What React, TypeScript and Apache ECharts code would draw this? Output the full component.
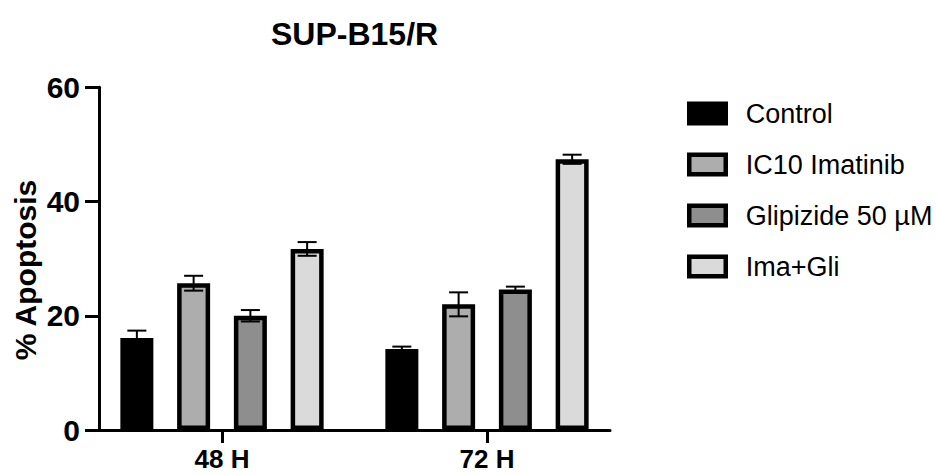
import React, { useEffect, useRef } from "react";
import * as echarts from "echarts";

const categories = ["48 H", "72 H"];
const seriesNames = ["Control", "IC10 Imatinib", "Glipizide 50 µM", "Ima+Gli"];
const controlValues = [16.1, 14.2];
const controlErrors = [1.3, 0.4];
const imatinibValues = [25.7, 22.0];
const imatinibErrors = [1.3, 2.1];
const glipizideValues = [20.0, 24.6];
const glipizideErrors = [1.0, 0.5];
const comboValues = [31.7, 47.4];
const comboErrors = [1.2, 0.8];
const yMin = 0;
const yMax = 60;
const yInterval = 20;

const seriesValues = [controlValues, imatinibValues, glipizideValues, comboValues];
const seriesErrors = [controlErrors, imatinibErrors, glipizideErrors, comboErrors];
const fills = ["#000000", "#adadad", "#8e8e8e", "#dadada"];

const FONT = "'Liberation Sans', Arial, Helvetica, sans-serif";
const BAR_W = 33;
const GAP_RATIO = 0.72;
const BORDER = 4.5;

export default function App() {
  const ref = useRef<HTMLDivElement>(null);
  useEffect(() => {
    if (!ref.current) return;
    const chart = echarts.init(ref.current, null, { renderer: "svg" });
    const step = BAR_W * (1 + GAP_RATIO);
    const bars = seriesNames.map((name, i) => ({
      name,
      type: "bar",
      xAxisIndex: 0,
      yAxisIndex: 0,
      data: seriesValues[i],
      barWidth: BAR_W,
      barGap: GAP_RATIO * 100 + "%",
      itemStyle: { color: fills[i], borderColor: "#000", borderWidth: BORDER },
      emphasis: { disabled: true },
    }));
    const errs = seriesNames.map((name, i) => {
      const offset = (i - 1.5) * step;
      return {
        name: "err-" + name,
        type: "custom",
        xAxisIndex: 0,
        yAxisIndex: 0,
        z: 10,
        data: seriesValues[i].map((v, k) => [k, v, seriesErrors[i][k]]),
        encode: { x: 0, y: 1 },
        renderItem: (params: any, api: any) => {
          const idx = api.value(0);
          const v = api.value(1);
          const e = api.value(2);
          const top = api.coord([idx, v + e]);
          const bot = api.coord([idx, v - e]);
          const x = top[0] + offset;
          const hw = 9.5;
          const style = { stroke: "#000", lineWidth: 2, fill: "none" };
          return {
            type: "group",
            children: [
              { type: "line", shape: { x1: x, y1: top[1], x2: x, y2: bot[1] }, style },
              { type: "line", shape: { x1: x - hw, y1: top[1], x2: x + hw, y2: top[1] }, style },
              { type: "line", shape: { x1: x - hw, y1: bot[1], x2: x + hw, y2: bot[1] }, style },
            ],
          };
        },
      };
    });
    chart.setOption({
      animation: false,
      backgroundColor: "#ffffff",
      title: {
        text: "SUP-B15/R",
        left: 271,
        top: 18,
        padding: 0,
        textStyle: { fontFamily: FONT, fontSize: 32, fontWeight: "bold", color: "#000" },
      },
      legend: {
        data: seriesNames,
        orient: "vertical",
        left: 687,
        top: 100,
        itemWidth: 36.5,
        itemHeight: 19.5,
        itemGap: 24,
        icon: "rect",
        selectedMode: false,
        padding: 0,
        itemStyle: { borderColor: "#000", borderWidth: BORDER },
        textStyle: {
          fontFamily: FONT,
          fontSize: 27,
          color: "#000",
          lineHeight: 24,
          padding: [0, 0, 0, 15],
        },
      },
      grid: [
        { left: 89.5, right: 316.5, top: 87.3, bottom: 45 },
        { left: 99, right: 326, top: 87.3, bottom: 45 },
      ],
      xAxis: [
        {
          type: "category",
          gridIndex: 0,
          data: categories,
          axisLine: { show: false },
          axisTick: { show: true, alignWithLabel: true, length: 13, lineStyle: { color: "#000", width: 3 } },
          axisLabel: { margin: 16, fontFamily: FONT, fontSize: 26, fontWeight: "bold", color: "#000" },
          splitLine: { show: false },
        },
        {
          type: "value",
          gridIndex: 1,
          min: 0,
          max: 1,
          axisLine: { show: true, lineStyle: { color: "#000", width: 3 } },
          axisTick: { show: false },
          axisLabel: { show: false },
          splitLine: { show: false },
        },
      ],
      yAxis: [
        { type: "value", gridIndex: 0, min: yMin, max: yMax, show: false },
        {
          type: "value",
          gridIndex: 1,
          min: yMin,
          max: yMax,
          interval: yInterval,
          axisLine: { show: true, lineStyle: { color: "#000", width: 3 } },
          axisTick: { show: true, length: 14, lineStyle: { color: "#000", width: 3 } },
          axisLabel: { margin: 19, fontFamily: FONT, fontSize: 30, fontWeight: "bold", color: "#000" },
          splitLine: { show: false },
        },
      ],
      graphic: [
        {
          type: "text",
          x: 25,
          y: 270,
          rotation: Math.PI / 2,
          style: {
            text: "% Apoptosis",
            fontFamily: FONT,
            fontSize: 30,
            fontWeight: "bold",
            fill: "#000",
            align: "center",
            verticalAlign: "middle",
          },
        },
      ],
      series: [...bars, ...errs],
    });
    return () => chart.dispose();
  }, []);
  return (
    <div
      ref={ref}
      style={{ position: "fixed", left: 0, top: 0, width: 936, height: 475, background: "#fff" }}
    />
  );
}
